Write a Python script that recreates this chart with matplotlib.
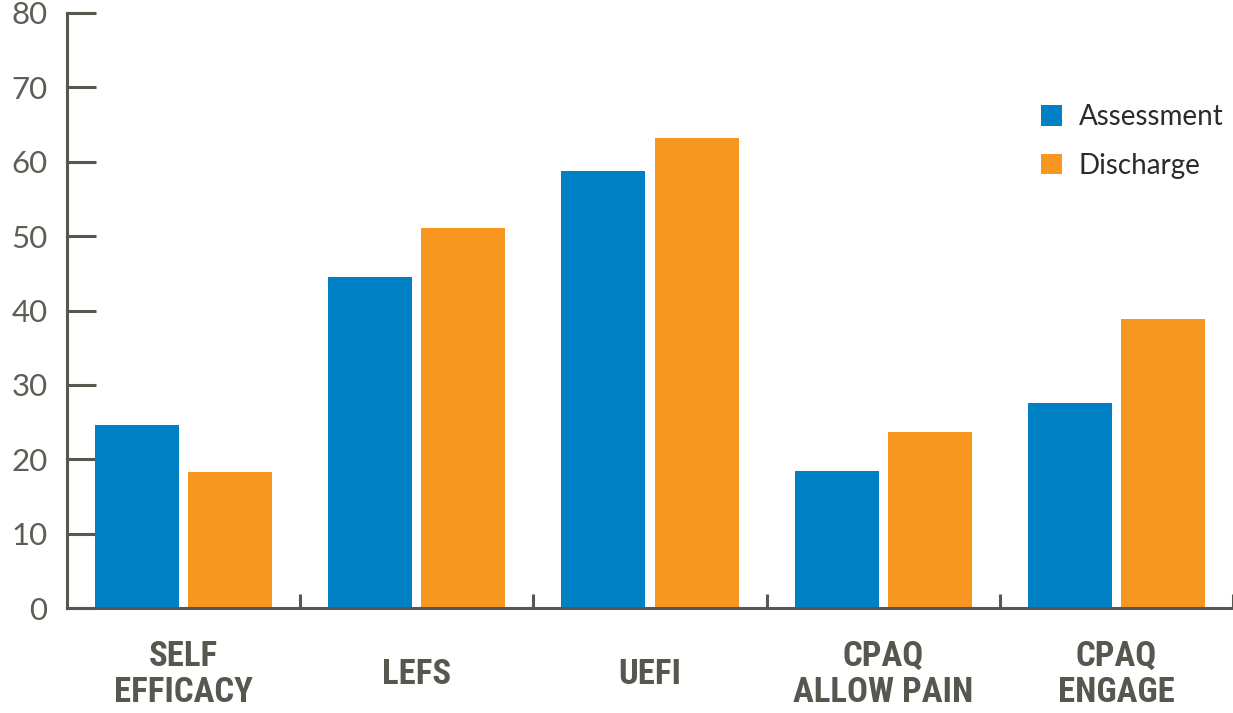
import matplotlib
matplotlib.use("Agg")
import matplotlib.pyplot as plt
from matplotlib import font_manager
from matplotlib.patches import Patch
import numpy as np

categories = ["SELF\nEFFICACY", "LEFS", "UEFI", "CPAQ\nALLOW PAIN", "CPAQ\nENGAGE"]
assessment = [24.6, 44.5, 58.7, 18.4, 27.6]
discharge = [18.3, 51.1, 63.2, 23.7, 38.8]
series_names = ["Assessment", "Discharge"]
y_ticks = [0, 10, 20, 30, 40, 50, 60, 70, 80]

BLUE = "#0081C6"
ORANGE = "#F7971F"
AXIS = "#57574F"

fonts = font_manager.fontManager.ttflist
names = {f.name for f in fonts}
plain = "Lato" if "Lato" in names else "DejaVu Sans"

# pick a narrow bold face for the category labels
cat_font = {"fontweight": "bold"}
if "Roboto Condensed" in names:
    cat_font.update(fontfamily="Roboto Condensed", fontsize=25)
elif "Liberation Sans Narrow" in names:
    cat_font.update(fontfamily="Liberation Sans Narrow", fontsize=25)
elif any(f.name == "DejaVu Sans" and f.stretch == "condensed" and f.weight in ("bold", 700) for f in fonts):
    cat_font.update(fontfamily="DejaVu Sans", fontstretch="condensed", fontsize=22)
else:
    cat_font.update(fontfamily="Roboto" if "Roboto" in names else "DejaVu Sans", fontsize=22)

fig = plt.figure(figsize=(12.33, 7.13), dpi=100)
ax = fig.add_axes([67 / 1233, 1 - 608 / 713, 1166 / 1233, (608 - 13) / 713])

x = np.arange(len(categories)) + 0.5
w = 0.36
ax.bar(x - 0.2, assessment, w, color=BLUE, zorder=2)
ax.bar(x + 0.2, discharge, w, color=ORANGE, zorder=2)

ax.set_xlim(0, len(categories))
ax.set_ylim(0, 80)

for s in ["top", "right"]:
    ax.spines[s].set_visible(False)
for s in ["left", "bottom"]:
    ax.spines[s].set_color(AXIS)
    ax.spines[s].set_linewidth(2.2)

ax.set_yticks(y_ticks)
ax.set_yticklabels([str(v) for v in y_ticks], fontfamily=plain, fontsize=22.5, color="#5e5e57")
ax.tick_params(axis="y", direction="in", length=21, width=2.2, color=AXIS, pad=14)

ax.set_xticks(x)
ax.set_xticklabels(categories, color=AXIS, linespacing=1.12, **cat_font)
ax.tick_params(axis="x", which="major", length=0, pad=48)
for lab in ax.get_xticklabels():
    lab.set_verticalalignment("center")
ax.set_xticks(np.arange(1, len(categories) + 1), minor=True)
ax.tick_params(axis="x", which="minor", direction="in", length=10, width=2.2, color=AXIS)

handles = [Patch(facecolor=BLUE), Patch(facecolor=ORANGE)]
leg = ax.legend(handles, series_names, loc="upper left",
                bbox_to_anchor=(1033 / 1233, 1 - 96 / 713), bbox_transform=fig.transFigure,
                frameon=False, handlelength=0.75, handleheight=0.75, handletextpad=0.6,
                labelspacing=0.8, borderaxespad=0, borderpad=0.3,
                prop={"family": plain, "size": 20})
for t in leg.get_texts():
    t.set_color("#2b2b2b")

fig.savefig("out.png", dpi=100)
